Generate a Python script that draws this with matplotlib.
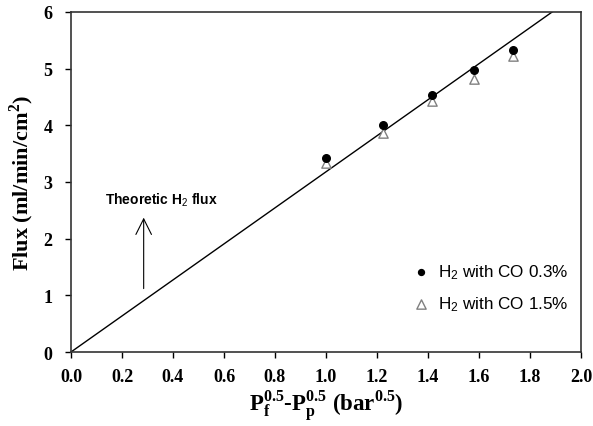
import matplotlib
matplotlib.use('Agg')
import matplotlib.pyplot as plt
import numpy as np

plt.rcParams['mathtext.fontset'] = 'custom'
plt.rcParams['mathtext.rm'] = 'Liberation Serif:bold'
plt.rcParams['mathtext.sf'] = 'Liberation Sans'

# data
dp = [1.0, 1.225, 1.414, 1.58, 1.732]
flux_co03 = [3.42, 4.01, 4.54, 4.97, 5.33]
flux_co15 = [3.34, 3.87, 4.43, 4.82, 5.23]
theory_x = [0.0, 2.0]
theory_slope = 3.18
xticks = [0.0, 0.2, 0.4, 0.6, 0.8, 1.0, 1.2, 1.4, 1.6, 1.8, 2.0]
yticks = [0, 1, 2, 3, 4, 5, 6]

fig = plt.figure(figsize=(5.93, 4.27), dpi=100)
ax = fig.add_axes([71/593, 1-353/427, 510/593, 340/427])

ax.plot(theory_x, [theory_slope*x for x in theory_x], color='black', lw=1.0)
ax.scatter(dp, flux_co03, s=30, color='black', zorder=3, label='$\\mathsf{H_2}$ with CO 0.3%')
ax.scatter(dp, flux_co15, s=45, marker='^', facecolor='white', edgecolor='#808080',
           linewidths=1.0, zorder=2, label='$\\mathsf{H_2}$ with CO 1.5%')

ax.annotate('', xy=(0.285, 2.42), xytext=(0.285, 1.07),
            arrowprops=dict(arrowstyle='->', color='black', lw=0.8,
                            mutation_scale=28))
ax.text(0.135, 2.7, 'Theoretic H$_\\mathsf{2}$ flux', family='Liberation Sans',
        fontweight='bold', fontsize=10, va='center')

ax.set_xlim(0, 2.0)
ax.set_ylim(0, 6)
ax.set_xticks(xticks)
ax.set_yticks(yticks)
ax.set_xticklabels(['%.1f' % v for v in xticks])
for lab in ax.get_xticklabels() + ax.get_yticklabels():
    lab.set_family('Liberation Serif')
    lab.set_fontweight('bold')
    lab.set_fontsize(13)
ax.tick_params(direction='out', length=4.5, width=1.0, top=False, right=False)
ax.tick_params(axis='x', pad=7)
ax.tick_params(axis='y', pad=9)
for sp in ax.spines.values():
    sp.set_linewidth(1.2)
    sp.set_color('#333333')

ax.set_ylabel('Flux (ml/min/cm$^\\mathrm{2}$)', family='Liberation Serif',
              fontweight='bold', fontsize=16, labelpad=5)
ax.set_xlabel('P$_\\mathrm{f}^\\mathrm{0.5}$-P$_\\mathrm{p}^\\mathrm{0.5}$ (bar$^\\mathrm{0.5}$)',
              family='Liberation Serif', fontweight='bold', fontsize=16.5, labelpad=2)

leg = ax.legend(loc='lower right', bbox_to_anchor=(1.005, 0.07), frameon=False,
                prop={'family': 'Liberation Sans', 'size': 12.3},
                handletextpad=0.35, labelspacing=0.75, handlelength=1.2)
leg.legend_handles[0].set_sizes([18])

fig.savefig('out.png', dpi=100)
